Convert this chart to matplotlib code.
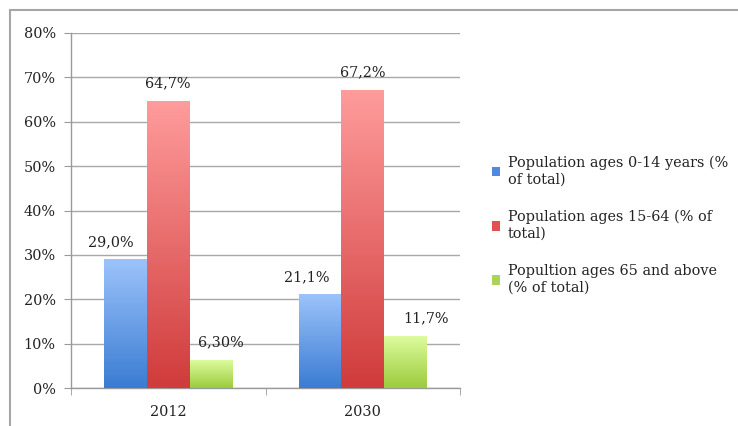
import matplotlib
matplotlib.use("Agg")
import matplotlib.pyplot as plt
import numpy as np
from matplotlib.colors import LinearSegmentedColormap
from matplotlib.patches import Rectangle
from matplotlib.ticker import FixedLocator, PercentFormatter

years = ["2012", "2030"]
series_names = [
    "Population ages 0-14 years (%\nof total)",
    "Population ages 15-64 (% of\ntotal)",
    "Popultion ages 65 and above\n(% of total)",
]
ages_0_14 = [29.0, 21.1]
ages_15_64 = [64.7, 67.2]
ages_65_up = [6.3, 11.7]
value_labels = [["29,0%", "21,1%"], ["64,7%", "67,2%"], ["6,30%", "11,7%"]]
y_ticks = [0, 10, 20, 30, 40, 50, 60, 70, 80]

plt.rcParams['font.family'] = ['DejaVu Serif']
FS = 10.4

top_colors = ["#9cc3fb", "#ff9c9c", "#dcfc9e"]
bot_colors = ["#3a7cd2", "#d03b3b", "#9ccb3c"]
legend_colors = ["#4f8ae0", "#e05252", "#a8d45a"]

fig = plt.figure(figsize=(7.38, 4.26), dpi=100)
W, H = 738, 426
ax = fig.add_axes([71 / W, 1 - 388 / H, (460 - 71) / W, (388 - 33) / H])

# outer frame (open at right/bottom as in the crop)
fig.add_artist(Rectangle((10 / W, -0.1), 1.2, 1 - 10 / H + 0.1, transform=fig.transFigure,
                         fill=False, edgecolor="#a6a6a6", lw=1.5, clip_on=False))

x = np.arange(len(years))
width = 0.22
data = [ages_0_14, ages_15_64, ages_65_up]
offsets_px = [[-15, -13], [0, 0], [10, 20]]

for i, (vals, name) in enumerate(zip(data, series_names)):
    bars = ax.bar(x + (i - 1) * width, vals, width, color="none", edgecolor="none",
                  label=name, zorder=3)
    cmap = LinearSegmentedColormap.from_list(f"g{i}", [bot_colors[i], top_colors[i]])
    for j, b in enumerate(bars):
        x0, w, h = b.get_x(), b.get_width(), b.get_height()
        grad = np.linspace(0, 1, 256).reshape(-1, 1)
        im = ax.imshow(grad, cmap=cmap, origin="lower", aspect="auto",
                       extent=[x0, x0 + w, 0, h], zorder=3)
        im.set_clip_path(b)
        ax.annotate(value_labels[i][j], (x0 + w / 2, h), xytext=(offsets_px[i][j] * 0.72, 7.5),
                    textcoords="offset points", ha="center", va="bottom", fontsize=FS,
                    color="#222222", zorder=4)

ax.set_xlim(-0.5, 1.5)
ax.set_ylim(0, 80)
ax.set_aspect("auto")
ax.yaxis.set_major_locator(FixedLocator(y_ticks))
ax.yaxis.set_major_formatter(PercentFormatter(decimals=0))
ax.set_xticks(x)
ax.set_xticklabels(years)
ax.set_xticks([-0.5, 0.5, 1.5], minor=True)
ax.tick_params(axis="x", which="major", length=0, pad=12, labelsize=FS, colors="#222222")
ax.tick_params(axis="x", which="minor", length=5, color="#9a9a9a", direction="out")
ax.tick_params(axis="y", length=5, color="#9a9a9a", pad=6, labelsize=FS, colors="#222222")
ax.tick_params(axis="y", color="#9a9a9a")
ax.grid(axis="y", color="#a8a8a8", lw=1, zorder=0)
ax.set_axisbelow(True)
for s in ["top", "right"]:
    ax.spines[s].set_visible(False)
for s in ["left", "bottom"]:
    ax.spines[s].set_color("#9a9a9a")
    ax.spines[s].set_linewidth(1)

handles = [Rectangle((0, 0), 1, 1, facecolor=c, edgecolor="none") for c in legend_colors]
leg = fig.legend(handles, series_names, loc="upper left", bbox_to_anchor=(486 / W, 1 - 150 / H),
                 frameon=False, fontsize=FS, handlelength=0.6, handleheight=0.6,
                 handletextpad=0.5, labelspacing=1.6, borderaxespad=0)
for t in leg.get_texts():
    t.set_color("#222222")
    t.set_linespacing(1.25)

fig.savefig("out.png", dpi=100)
